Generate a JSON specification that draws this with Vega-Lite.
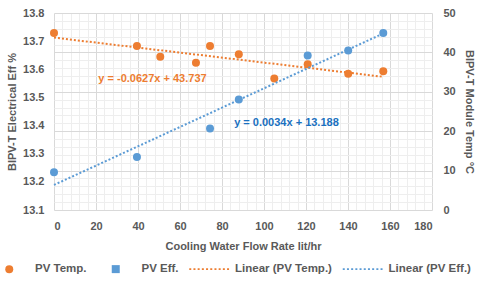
{
  "$schema": "https://vega.github.io/schema/vega-lite/v6.json",
  "width": 378,
  "height": 197,
  "autosize": {"type": "none"},
  "padding": {"left": 54, "top": 13, "right": 48, "bottom": 74},
  "config": {
    "font": "Liberation Sans",
    "view": {"stroke": null},
    "axis": {
      "labelFont": "Liberation Sans",
      "labelFontWeight": "bold",
      "labelFontSize": 11,
      "labelColor": "#595959",
      "titleFont": "Liberation Sans",
      "titleFontWeight": "bold",
      "titleFontSize": 11,
      "titleColor": "#595959",
      "ticks": false,
      "domain": false
    },
    "legend": {
      "title": null,
      "orient": "none",
      "legendX": -50.5,
      "legendY": 250,
      "direction": "horizontal",
      "columns": 4,
      "padding": 0,
      "symbolSize": 64,
      "labelOffset": 20,
      "columnPadding": 9.5,
      "labelFont": "Liberation Sans",
      "labelFontSize": 11.5,
      "labelFontWeight": "bold",
      "labelColor": "#595959",
      "labelLimit": 0
    }
  },
  "datasets": {
    "temp": [
      {"flow": 0, "temp": 44.9, "series": "PV Temp."},
      {"flow": 39.5, "temp": 41.6, "series": "PV Temp."},
      {"flow": 50.6, "temp": 38.9, "series": "PV Temp."},
      {"flow": 67.6, "temp": 37.4, "series": "PV Temp."},
      {"flow": 74.3, "temp": 41.6, "series": "PV Temp."},
      {"flow": 88, "temp": 39.5, "series": "PV Temp."},
      {"flow": 104.9, "temp": 33.4, "series": "PV Temp."},
      {"flow": 120.8, "temp": 37.0, "series": "PV Temp."},
      {"flow": 140.1, "temp": 34.6, "series": "PV Temp."},
      {"flow": 156.8, "temp": 35.2, "series": "PV Temp."}
    ],
    "eff": [
      {"flow": 0, "eff": 13.234, "series": "PV Eff."},
      {"flow": 39.5, "eff": 13.288, "series": "PV Eff."},
      {"flow": 74.3, "eff": 13.39, "series": "PV Eff."},
      {"flow": 88, "eff": 13.493, "series": "PV Eff."},
      {"flow": 120.8, "eff": 13.649, "series": "PV Eff."},
      {"flow": 140.1, "eff": 13.667, "series": "PV Eff."},
      {"flow": 156.8, "eff": 13.729, "series": "PV Eff."}
    ],
    "labelTemp": [
      {"flow": 46.9, "eff": 13.565, "label": "y = -0.0627x + 43.737"}
    ],
    "labelEff": [
      {"flow": 110.7, "eff": 13.408, "label": "y = 0.0034x + 13.188"}
    ]
  },
  "encoding": {
    "x": {
      "field": "flow",
      "type": "quantitative",
      "scale": {"domain": [0, 180], "nice": false, "zero": false},
      "axis": {
        "title": "Cooling Water Flow Rate lit/hr",
        "values": [0,4,8,12,16,20,24,28,32,36,40,44,48,52,56,60,64,68,72,76,80,84,88,92,96,100,104,108,112,116,120,124,128,132,136,140,144,148,152,156,160,164,168,172,176,180],
        "labelExpr": "datum.value % 20 === 0 ? datum.label : ''",
        "grid": true,
        "gridColor": {"condition": {"test": "datum.value % 20 === 0", "value": "#d9d9d9"}, "value": "#eeeeee"},
        "labelPadding": 10,
        "titlePadding": 9
      }
    }
  },
  "layer": [
    {
      "data": {"name": "temp"},
      "encoding": {
        "y": {
          "field": "temp",
          "type": "quantitative",
          "scale": {"domain": [0, 50], "nice": false, "zero": false},
          "axis": {
            "orient": "right",
            "title": "BIPV-T Module Temp °C",
            "values": [0,2,4,6,8,10,12,14,16,18,20,22,24,26,28,30,32,34,36,38,40,42,44,46,48,50],
            "labelExpr": "datum.value % 10 === 0 ? datum.label : ''",
            "grid": true,
            "gridColor": {"condition": {"test": "datum.value % 10 === 0", "value": "#d9d9d9"}, "value": "#eeeeee"},
            "labelPadding": 11,
            "titlePadding": 8
          }
        }
      },
      "layer": [
        {
          "transform": [{"regression": "temp", "on": "flow"}],
          "mark": {"type": "line", "color": "#ED7D31", "strokeDash": [2, 2], "strokeWidth": 2},
          "encoding": {}
        },
        {
          "mark": {"type": "point", "filled": true, "size": 64, "opacity": 1},
          "encoding": {
            "color": {
              "field": "series",
              "type": "nominal",
              "scale": {"domain": ["PV Temp.", "PV Eff.", "Linear (PV Temp.)", "Linear (PV Eff.)"], "range": ["#ED7D31", "#5B9BD5", "#ED7D31", "#5B9BD5"]}
            },
            "shape": {
              "field": "series",
              "type": "nominal",
              "scale": {
                "domain": ["PV Temp.", "PV Eff.", "Linear (PV Temp.)", "Linear (PV Eff.)"],
                "range": [
                  "circle",
                  "M-4.625,0 M-1,-1h2v2h-2z",
                  "M-5,-0.22h0.5v0.44h-0.5z M-3.95,-0.22h0.5v0.44h-0.5z M-2.9,-0.22h0.5v0.44h-0.5z M-1.85,-0.22h0.5v0.44h-0.5z M-0.8,-0.22h0.5v0.44h-0.5z M0.25,-0.22h0.5v0.44h-0.5z M1.3,-0.22h0.5v0.44h-0.5z M2.35,-0.22h0.5v0.44h-0.5z M3.4,-0.22h0.5v0.44h-0.5z M4.45,-0.22h0.5v0.44h-0.5z",
                  "M-5,-0.22h0.5v0.44h-0.5z M-3.95,-0.22h0.5v0.44h-0.5z M-2.9,-0.22h0.5v0.44h-0.5z M-1.85,-0.22h0.5v0.44h-0.5z M-0.8,-0.22h0.5v0.44h-0.5z M0.25,-0.22h0.5v0.44h-0.5z M1.3,-0.22h0.5v0.44h-0.5z M2.35,-0.22h0.5v0.44h-0.5z M3.4,-0.22h0.5v0.44h-0.5z M4.45,-0.22h0.5v0.44h-0.5z"
                ]
              }
            }
          }
        }
      ]
    },
    {
      "data": {"name": "eff"},
      "encoding": {
        "y": {
          "field": "eff",
          "type": "quantitative",
          "scale": {"domain": [13.1, 13.8], "nice": false, "zero": false},
          "axis": {
            "orient": "left",
            "title": "BIPV-T Electrical Eff %",
            "values": [13.1, 13.2, 13.3, 13.4, 13.5, 13.6, 13.7, 13.8],
            "format": ".1f",
            "grid": false,
            "labelPadding": 10,
            "titlePadding": 5
          }
        }
      },
      "layer": [
        {
          "transform": [{"regression": "eff", "on": "flow"}],
          "mark": {"type": "line", "color": "#5B9BD5", "strokeDash": [2, 2], "strokeWidth": 2},
          "encoding": {}
        },
        {
          "mark": {"type": "point", "filled": true, "size": 64, "opacity": 1, "shape": "circle"},
          "encoding": {
            "color": {
              "field": "series",
              "type": "nominal",
              "scale": {"domain": ["PV Temp.", "PV Eff.", "Linear (PV Temp.)", "Linear (PV Eff.)"], "range": ["#ED7D31", "#5B9BD5", "#ED7D31", "#5B9BD5"]}
            }
          }
        },
        {
          "data": {"name": "labelTemp"},
          "mark": {"type": "text", "font": "Liberation Sans", "fontSize": 11, "fontWeight": "bold", "color": "#ED7D31"},
          "encoding": {"text": {"field": "label", "type": "nominal"}}
        },
        {
          "data": {"name": "labelEff"},
          "mark": {"type": "text", "font": "Liberation Sans", "fontSize": 11, "fontWeight": "bold", "color": "#1A70C0"},
          "encoding": {"text": {"field": "label", "type": "nominal"}}
        }
      ]
    }
  ],
  "resolve": {"scale": {"y": "independent"}}
}
